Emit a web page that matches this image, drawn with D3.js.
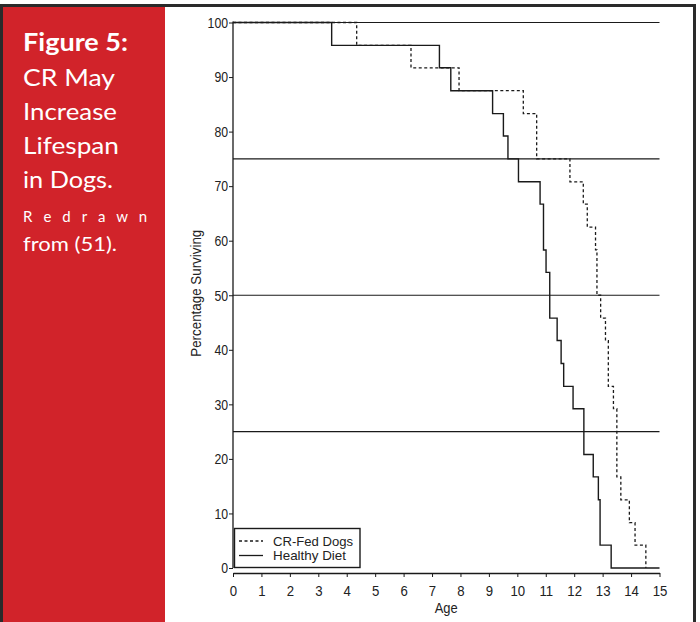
<!DOCTYPE html>
<html>
<head>
<meta charset="utf-8">
<script src="https://cdn.jsdelivr.net/npm/d3@7"></script>
<style>
body { margin: 0; background: #fff; }
svg { display: block; }
</style>
</head>
<body>
<div class="chart"></div>
<script>
// 健康食 (solid)
var healthyAge = [0, 3.47, 7.26, 7.66, 9.13, 9.51, 9.67, 10.04, 10.80, 10.92, 11.01, 11.14, 11.40, 11.54, 11.63, 11.96, 12.34, 12.67, 12.85, 12.91, 13.30, 15];
var healthyPct = [100, 95.8, 91.7, 87.5, 83.3, 79.2, 75, 70.8, 66.7, 58.3, 54.2, 45.8, 41.7, 37.5, 33.3, 29.2, 20.8, 16.7, 12.5, 4.2, 0, 0];
// CR-Fed (dashed)
var crAge = [0, 4.35, 6.26, 7.95, 10.21, 10.68, 11.85, 12.32, 12.46, 12.75, 12.80, 12.93, 13.10, 13.20, 13.38, 13.50, 13.64, 13.94, 14.14, 14.52];
var crPct = [100, 95.8, 91.7, 87.5, 83.3, 75, 70.8, 66.7, 62.5, 58.3, 50, 45.8, 41.7, 33.3, 29.2, 16.7, 12.5, 8.3, 4.2, 0];

var refLines = [100, 75, 50, 25];
var xTicks = d3.range(0, 16);
var yTicks = d3.range(0, 101, 10);
var legendNames = ["CR-Fed Dogs", "Healthy Diet"];
var panelLines = ["Figure 5:", "CR May", "Increase", "Lifespan", "in Dogs.", "R e d r a w n", "from (51)."];

var W = 700, H = 622;
var svg = d3.select("div.chart").append("svg")
    .attr("width", W).attr("height", H);

// 枠と赤いパネル
svg.append("rect")
    .attr("x", 1.5).attr("y", 5.5).attr("width", 693).attr("height", 630)
    .attr("fill", "#fff").attr("stroke", "#2a2a2a").attr("stroke-width", 3);
svg.append("rect")
    .attr("x", 3).attr("y", 7).attr("width", 162).attr("height", 620)
    .attr("fill", "#d1232a");

var panelStyle = [
    {size: 25, weight: "bold", y: 51, len: 105, adj: "spacingAndGlyphs"},
    {size: 23, weight: "normal", y: 86, len: 92, adj: "spacingAndGlyphs"},
    {size: 23, weight: "normal", y: 120, len: 94, adj: "spacingAndGlyphs"},
    {size: 23, weight: "normal", y: 154, len: 96, adj: "spacingAndGlyphs"},
    {size: 23, weight: "normal", y: 188, len: 90, adj: "spacingAndGlyphs"},
    {size: 15, weight: "normal", y: 222, len: 124, adj: "spacing"},
    {size: 20, weight: "normal", y: 251, len: 94, adj: "spacingAndGlyphs"}
];
svg.append("g").selectAll("text")
    .data(panelLines)
    .enter().append("text")
    .attr("x", 23)
    .attr("y", function(d, i) { return panelStyle[i].y; })
    .attr("font-family", "Lato, 'Noto Sans', sans-serif")
    .attr("font-size", function(d, i) { return panelStyle[i].size; })
    .attr("font-weight", function(d, i) { return panelStyle[i].weight; })
    .attr("textLength", function(d, i) { return panelStyle[i].len; })
    .attr("lengthAdjust", function(d, i) { return panelStyle[i].adj; })
    .attr("fill", "#fff")
    .text(function(d) { return d; });

// 目盛りの設定
var x = d3.scaleLinear().domain([0, 15]).range([233, 659.5]);
var y = d3.scaleLinear().domain([0, 100]).range([568, 22.5]);
var font = "'Liberation Sans', Arial, sans-serif";

var g = svg.append("g");

// y軸
var yAxis = d3.axisLeft(y).tickValues(yTicks).tickSize(4).tickPadding(2);
var ya = g.append("g")
    .attr("transform", "translate(" + x(0) + ",0)")
    .call(yAxis);
ya.select(".domain").remove();
ya.append("line")
    .attr("x1", 0).attr("x2", 0)
    .attr("y1", y(0)).attr("y2", y(100) - 1)
    .attr("stroke", "#1a1a1a").attr("stroke-width", 1.3);
ya.selectAll("text")
    .attr("font-family", font).attr("font-size", 15).attr("fill", "#222")
    .attr("transform", "scale(0.82,1)");
ya.selectAll(".tick line").attr("stroke", "#1a1a1a");

// x軸
var xAxis = d3.axisBottom(x).tickValues(xTicks).tickSize(4).tickPadding(8).tickSizeOuter(0);
var xa = g.append("g")
    .attr("transform", "translate(0," + (y(0) + 5) + ")")
    .call(xAxis);
xa.select(".domain").attr("stroke", "#1a1a1a").attr("stroke-width", 1.3);
xa.selectAll(".tick line").attr("stroke", "#1a1a1a");
xa.selectAll("text")
    .attr("font-family", font).attr("font-size", 15).attr("fill", "#222")
    .attr("transform", "scale(0.88,1)");

// 軸ラベル
g.append("text")
    .attr("x", (x(0) + x(15)) / 2).attr("y", 613)
    .attr("text-anchor", "middle")
    .attr("font-family", font).attr("font-size", 15).attr("fill", "#222")
    .attr("textLength", 23).attr("lengthAdjust", "spacingAndGlyphs")
    .text("Age");
g.append("text")
    .attr("transform", "translate(201," + (y(50) - 2) + ") rotate(-90)")
    .attr("text-anchor", "middle")
    .attr("font-family", font).attr("font-size", 15).attr("fill", "#222")
    .attr("textLength", 127).attr("lengthAdjust", "spacingAndGlyphs")
    .text("Percentage Surviving");

// 基準線
g.selectAll(".ref").data(refLines).enter().append("line")
    .attr("class", "ref")
    .attr("x1", x(0)).attr("x2", x(15))
    .attr("y1", function(d) { return y(d); })
    .attr("y2", function(d) { return y(d); })
    .attr("stroke", "#1a1a1a").attr("stroke-width", 1.2);

// 生存曲線
var step = d3.line()
    .x(function(d) { return x(d[0]); })
    .y(function(d) { return y(d[1]); })
    .curve(d3.curveStepAfter);

g.append("path")
    .datum(d3.zip(crAge, crPct))
    .attr("d", step)
    .attr("fill", "none").attr("stroke", "#1a1a1a")
    .attr("stroke-width", 1.3).attr("stroke-dasharray", "3,2.5");
g.append("path")
    .datum(d3.zip(healthyAge, healthyPct))
    .attr("d", step)
    .attr("fill", "none").attr("stroke", "#1a1a1a")
    .attr("stroke-width", 1.4);

// 凡例
var lg = g.append("g");
lg.append("rect")
    .attr("x", 234.5).attr("y", 528.5).attr("width", 125.5).attr("height", 39)
    .attr("fill", "#fff").attr("stroke", "#1a1a1a").attr("stroke-width", 1.4);
var legendLen = [80, 73];
var items = lg.selectAll(".item").data(legendNames).enter().append("g")
    .attr("class", "item")
    .attr("transform", function(d, i) { return "translate(0," + (541 + i * 14.5) + ")"; });
items.append("line")
    .attr("x1", 239).attr("x2", 263)
    .attr("stroke", "#1a1a1a").attr("stroke-width", 1.3)
    .attr("stroke-dasharray", function(d, i) { return i === 0 ? "3,2.5" : null; });
items.append("text")
    .attr("x", 273).attr("dy", "0.35em")
    .attr("font-family", font).attr("font-size", 13.5).attr("fill", "#222")
    .attr("textLength", function(d, i) { return legendLen[i]; })
    .attr("lengthAdjust", "spacingAndGlyphs")
    .text(function(d) { return d; });
</script>
</body>
</html>
